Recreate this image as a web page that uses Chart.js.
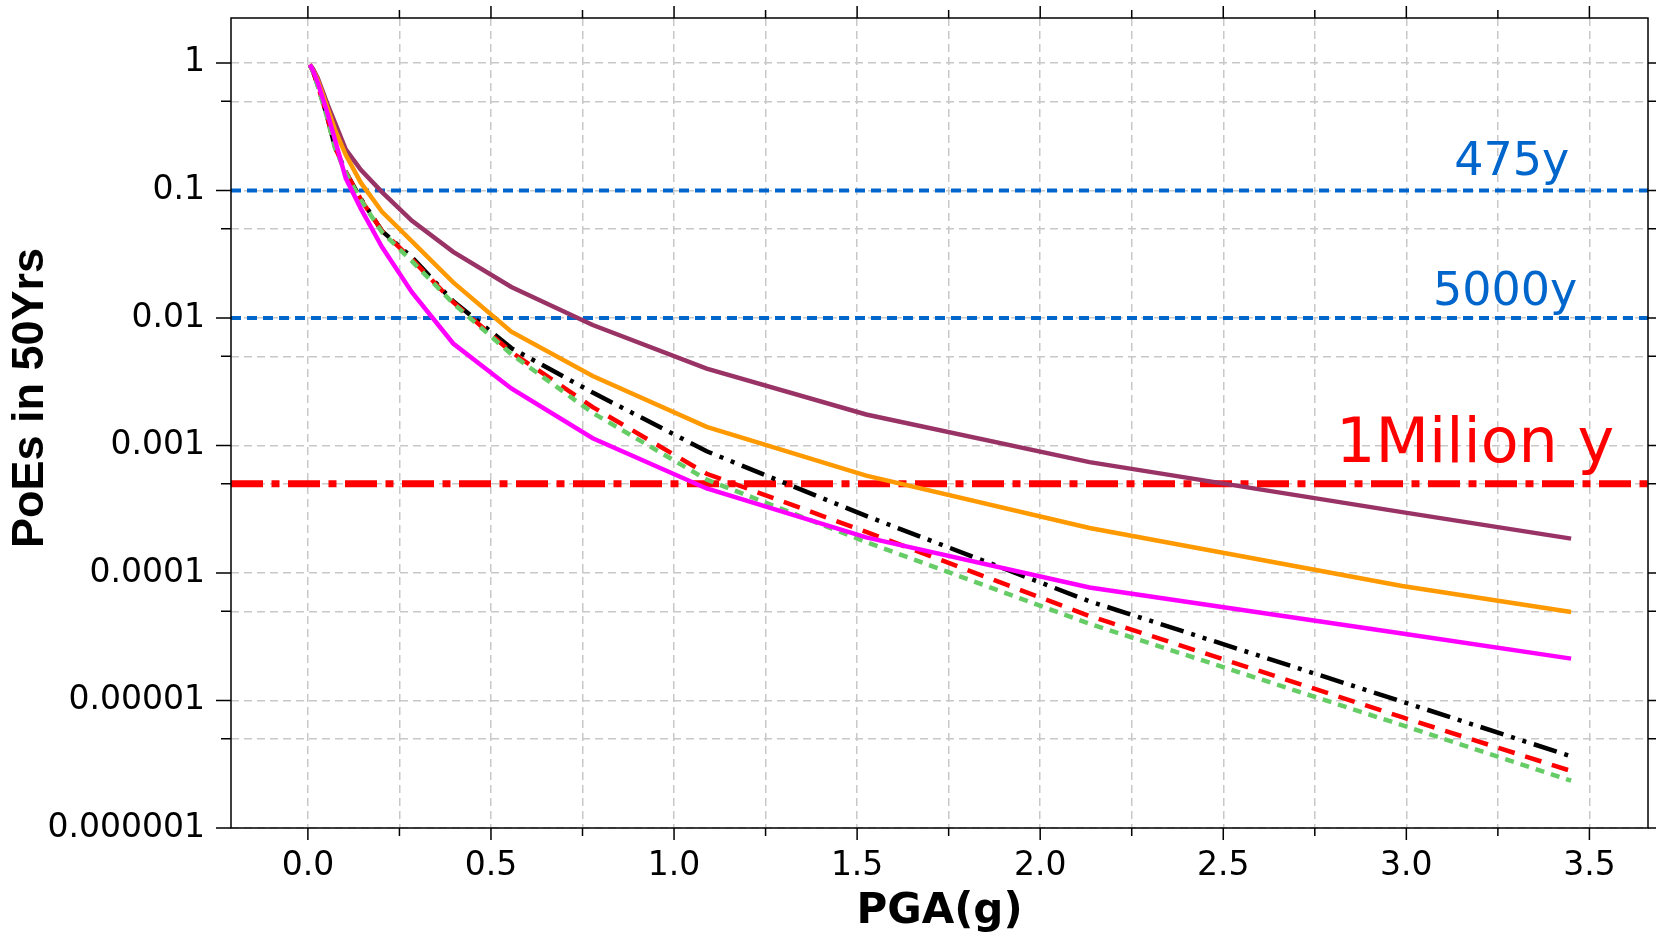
<!DOCTYPE html>
<html>
<head>
<meta charset="utf-8">
<script src="https://cdn.jsdelivr.net/npm/chart.js@4.4.1/dist/chart.umd.min.js"></script>
<style>
  html, body { margin: 0; padding: 0; background: #fff; }
  #hazardChart { display: block; }
</style>
</head>
<body>
<canvas id="hazardChart" width="1656" height="937"></canvas>
<script>
// intensity levels (g) shared by all hazard curves
const pga = [0.005, 0.007, 0.0098, 0.0137, 0.0192, 0.0269, 0.0376, 0.0527, 0.0738, 0.1033, 0.1446,
             0.2025, 0.2835, 0.3969, 0.5556, 0.7779, 1.0891, 1.5247, 2.1346, 2.9884, 3.45];

// probability of exceedance in 50 years, one array per curve
const poePurple  = [0.97, 0.955, 0.93, 0.9, 0.84, 0.76, 0.63, 0.48, 0.34, 0.21, 0.145,
                    0.097, 0.058, 0.033, 0.0175, 0.0088, 0.0040, 0.00175, 0.00074, 0.00030, 0.000186];
const poeOrange  = [0.97, 0.95, 0.92, 0.88, 0.82, 0.73, 0.6, 0.45, 0.30, 0.19, 0.115,
                    0.068, 0.040, 0.019, 0.0078, 0.0035, 0.0014, 0.00058, 0.000225, 0.000079, 0.0000495];
const poeMagenta = [0.97, 0.95, 0.92, 0.87, 0.80, 0.70, 0.56, 0.41, 0.25, 0.125, 0.072,
                    0.036, 0.016, 0.0063, 0.0028, 0.00114, 0.00046, 0.00019, 0.000077, 0.0000335, 0.0000213];
const poeBlack   = [0.96, 0.94, 0.91, 0.86, 0.78, 0.67, 0.53, 0.38, 0.22, 0.14, 0.086,
                    0.048, 0.030, 0.0135, 0.0058, 0.0026, 0.0009, 0.00028, 0.00006, 0.0000098, 0.00000365];
const poeRed     = [0.96, 0.94, 0.91, 0.86, 0.78, 0.67, 0.53, 0.38, 0.22, 0.14, 0.085,
                    0.048, 0.029, 0.0133, 0.0054, 0.0020, 0.0006, 0.00021, 0.000046, 0.0000074, 0.0000028];
const poeGreen   = [0.96, 0.94, 0.90, 0.85, 0.77, 0.66, 0.52, 0.37, 0.215, 0.138, 0.084,
                    0.047, 0.028, 0.013, 0.0052, 0.0018, 0.00054, 0.000175, 0.00004, 0.0000064, 0.00000235];

// return-period reference levels
const refLabels = ['475y', '5000y', '1Milion y'];
const refLevels = [0.1, 0.01, 0.0005];

// axis ticks
const xTickValues = [0, 0.25, 0.5, 0.75, 1, 1.25, 1.5, 1.75, 2, 2.25, 2.5, 2.75, 3, 3.25, 3.5];
const yTickValues = [1e-6, 5e-6, 1e-5, 5e-5, 1e-4, 5e-4, 1e-3, 5e-3, 0.01, 0.05, 0.1, 0.5, 1];

const xMin = -0.21, xMax = 3.66;
const yMin = 1e-6, yMax = 2.25;

const toPoints = vals => pga.map((g, i) => ({x: g, y: vals[i]}));
const refLine = lvl => [{x: xMin, y: lvl}, {x: xMax, y: lvl}];

const isDecade = v => Math.abs(Math.log10(v) - Math.round(Math.log10(v))) < 1e-9;
const isHalfG = v => Math.abs(v * 2 - Math.round(v * 2)) < 1e-9;

/* frame with outward ticks on all four sides */
const frameTicks = {
  id: 'frameTicks',
  afterDraw(chart) {
    const {ctx, chartArea: a, scales: {x, y}} = chart;
    ctx.save();
    ctx.strokeStyle = '#000';
    ctx.lineWidth = 1.5;
    ctx.strokeRect(a.left, a.top, a.right - a.left, a.bottom - a.top);
    ctx.beginPath();
    x.ticks.forEach(t => {
      const px = x.getPixelForValue(t.value);
      const len = isHalfG(t.value) ? 12 : 8;
      ctx.moveTo(px, a.bottom); ctx.lineTo(px, a.bottom + len);
      ctx.moveTo(px, a.top); ctx.lineTo(px, a.top - len);
    });
    y.ticks.forEach(t => {
      const py = y.getPixelForValue(t.value);
      const len = isDecade(t.value) ? 15 : 10;
      ctx.moveTo(a.left, py); ctx.lineTo(a.left - len, py);
      ctx.moveTo(a.right, py); ctx.lineTo(a.right + len, py);
    });
    ctx.stroke();
    ctx.restore();
  }
};

/* labels sitting above the reference lines */
const refNotes = {
  id: 'refNotes',
  afterDatasetsDraw(chart) {
    const {ctx, scales: {x, y}} = chart;
    const anchors = [[3.445, 0.131], [3.467, 0.0126], [3.568, 0.00074]];
    const fonts = ['46px "DejaVu Sans"', '46px "DejaVu Sans"', '62px "DejaVu Sans"'];
    const colors = ['#0066cc', '#0066cc', '#ff0000'];
    ctx.save();
    ctx.textAlign = 'right';
    ctx.textBaseline = 'alphabetic';
    refLabels.forEach((txt, i) => {
      ctx.font = fonts[i];
      ctx.fillStyle = colors[i];
      ctx.fillText(txt, x.getPixelForValue(anchors[i][0]), y.getPixelForValue(anchors[i][1]));
    });
    ctx.restore();
  }
};

const curve = (data, color, dash) => ({
  data: toPoints(data),
  borderColor: color,
  borderWidth: 4.5,
  borderDash: dash,
  pointRadius: 0,
  fill: false,
  tension: 0
});

new Chart(document.getElementById('hazardChart'), {
  type: 'line',
  data: {
    datasets: [
      curve(poeMagenta, '#ff00ff', []),
      curve(poeGreen, '#66cc66', [9, 7]),
      curve(poeRed, '#ff0000', [17, 11]),
      curve(poeBlack, '#000000', [24, 8, 4, 8, 4, 8]),
      curve(poeOrange, '#ff9900', []),
      curve(poePurple, '#993366', []),
      {data: refLine(refLevels[2]), borderColor: '#ff0000', borderWidth: 7, borderDash: [32, 8.5, 8, 8.5], pointRadius: 0},
      {data: refLine(refLevels[1]), borderColor: '#0066cc', borderWidth: 4, borderDash: [10, 6], pointRadius: 0},
      {data: refLine(refLevels[0]), borderColor: '#0066cc', borderWidth: 4, borderDash: [10, 6], pointRadius: 0}
    ]
  },
  options: {
    responsive: false,
    animation: false,
    layout: { padding: { top: 18, right: 8, left: 0, bottom: 0 } },
    plugins: { legend: { display: false }, tooltip: { enabled: false } },
    scales: {
      x: {
        type: 'linear',
        min: xMin,
        max: xMax,
        afterBuildTicks: s => { s.ticks = xTickValues.map(v => ({value: v})); },
        afterFit: s => { s.height = 109; s.paddingLeft = 0; s.paddingRight = 0; },
        grid: { color: '#c8c8c8', lineWidth: 1.5, drawTicks: false },
        border: { display: false, dash: [8, 5] },
        ticks: {
          autoSkip: false,
          maxRotation: 0,
          padding: 19,
          color: '#000',
          font: { family: 'DejaVu Sans', size: 33 },
          callback: v => isHalfG(v) ? v.toFixed(1) : ''
        },
        title: {
          display: true,
          text: 'PGA(g)',
          color: '#000',
          padding: { top: 0, bottom: 0 },
          font: { family: 'DejaVu Sans', size: 42, weight: 'bold' }
        }
      },
      y: {
        type: 'logarithmic',
        min: yMin,
        max: yMax,
        afterBuildTicks: s => { s.ticks = yTickValues.map(v => ({value: v})); },
        afterFit: s => { s.width = 231; s.paddingTop = 0; s.paddingBottom = 0; },
        grid: { color: '#c8c8c8', lineWidth: 1.5, drawTicks: false },
        border: { display: false, dash: [8, 5] },
        ticks: {
          autoSkip: false,
          padding: 26,
          color: '#000',
          font: { family: 'DejaVu Sans', size: 33 },
          callback: v => isDecade(v) ? v.toFixed(Math.max(0, -Math.round(Math.log10(v)))) : ''
        },
        title: {
          display: true,
          text: '    PoEs in 50Yrs',
          color: '#000',
          padding: { top: 4, bottom: 0 },
          font: { family: '"Liberation Sans", Arial, sans-serif', size: 45, weight: 'bold' }
        }
      }
    }
  },
  plugins: [frameTicks, refNotes]
});
</script>
</body>
</html>
